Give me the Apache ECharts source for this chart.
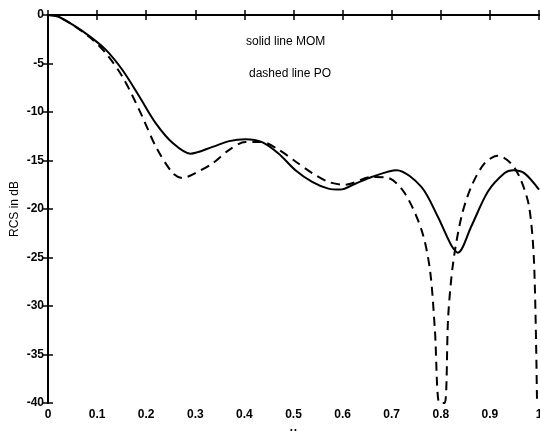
<!DOCTYPE html>
<html>
<head>
<meta charset="utf-8">
<script src="https://cdn.jsdelivr.net/npm/echarts@6/dist/echarts.min.js"></script>
<style>
  html, body { margin: 0; padding: 0; background: #fff; }
  #chart { width: 540px; height: 431px; }
</style>
</head>
<body>
<div id="chart"></div>
<script>
// solid line: MOM
const uMom = [0, 0.02, 0.05, 0.085, 0.118, 0.152, 0.186, 0.22, 0.254, 0.29, 0.335, 0.369, 0.402, 0.436, 0.47, 0.504, 0.538, 0.571, 0.595, 0.626, 0.659, 0.71, 0.76, 0.794, 0.821, 0.835, 0.862, 0.896, 0.93, 0.947, 0.97, 1.0];
const rcsMom = [0, -0.15, -1.0, -2.2, -3.6, -5.7, -8.4, -11.2, -13.2, -14.3, -13.6, -13.0, -12.8, -13.1, -14.3, -16.0, -17.2, -17.9, -18.0, -17.4, -16.7, -16.0, -17.7, -20.8, -23.7, -24.5, -21.8, -18.2, -16.3, -16.0, -16.3, -18.0];
// dashed line: PO
const uPo = [0, 0.02, 0.05, 0.085, 0.118, 0.152, 0.186, 0.22, 0.254, 0.274, 0.30, 0.335, 0.369, 0.402, 0.436, 0.47, 0.504, 0.538, 0.571, 0.605, 0.659, 0.693, 0.727, 0.761, 0.778, 0.788, 0.797, 0.808, 0.815, 0.825, 0.842, 0.862, 0.889, 0.916, 0.943, 0.963, 0.98, 0.99, 0.996];
const rcsPo = [0, -0.15, -1.0, -2.3, -3.95, -6.4, -9.8, -13.6, -16.3, -16.8, -16.3, -15.3, -13.9, -13.1, -13.1, -13.9, -15.1, -16.3, -17.2, -17.5, -16.7, -16.8, -18.4, -22.2, -26.3, -32.5, -40, -40, -31.1, -25.6, -20.8, -17.7, -15.3, -14.5, -15.3, -17.0, -19.8, -25.6, -40];

const chart = echarts.init(document.getElementById("chart"));
const font = "Liberation Sans, Arial, sans-serif";

const axisLine = { show: true, lineStyle: { color: "#000", width: 2 } };
const axisTick = { show: true, inside: true, length: 5, lineStyle: { color: "#000", width: 1.5 } };

chart.setOption({
  animation: false,
  backgroundColor: "#fff",
  grid: { left: 48, right: 1, top: 15, bottom: 28, outerBoundsMode: "none", containLabel: false },
  xAxis: [
    {
      type: "value", min: 0, max: 1, interval: 0.1,
      name: "u", nameLocation: "middle", nameGap: 24, nameMoveOverlap: false,
      nameTextStyle: { color: "#000", fontSize: 12, fontFamily: font, fontWeight: "bold" },
      axisLine, axisTick,
      axisLabel: { color: "#000", fontSize: 12, fontFamily: font, fontWeight: "bold", margin: 6,
        formatter: v => String(+v.toFixed(1)) },
      splitLine: { show: false }
    },
    {
      type: "value", min: 0, max: 1, interval: 0.1, position: "top",
      axisLine, axisTick, axisLabel: { show: false }, splitLine: { show: false }
    }
  ],
  yAxis: [
    {
      type: "value", min: -40, max: 0, interval: 5,
      name: "RCS in dB", nameLocation: "middle", nameGap: 27, nameMoveOverlap: false,
      nameTextStyle: { color: "#000", fontSize: 12, fontFamily: font },
      axisLine, axisTick,
      axisLabel: { color: "#000", fontSize: 12, fontFamily: font, fontWeight: "bold", margin: 4 },
      splitLine: { show: false }
    },
    {
      type: "value", min: -40, max: 0, interval: 5, position: "right",
      axisLine, axisTick, axisLabel: { show: false }, splitLine: { show: false }
    }
  ],
  graphic: [
    { type: "text", left: 246, top: 36, style: { text: "solid line MOM", fill: "#000", font: "12px " + font } },
    { type: "text", left: 249, top: 68, style: { text: "dashed line PO", fill: "#000", font: "12px " + font } }
  ],
  series: [
    {
      name: "MOM", type: "line", smooth: 0.3, showSymbol: false, clip: true,
      lineStyle: { color: "#000", width: 2 },
      data: uMom.map((u, i) => [u, rcsMom[i]])
    },
    {
      name: "PO", type: "line", smooth: 0.3, showSymbol: false, clip: true,
      lineStyle: { color: "#000", width: 2, type: [9, 6] },
      data: uPo.map((u, i) => [u, rcsPo[i]])
    }
  ]
});
</script>
</body>
</html>
